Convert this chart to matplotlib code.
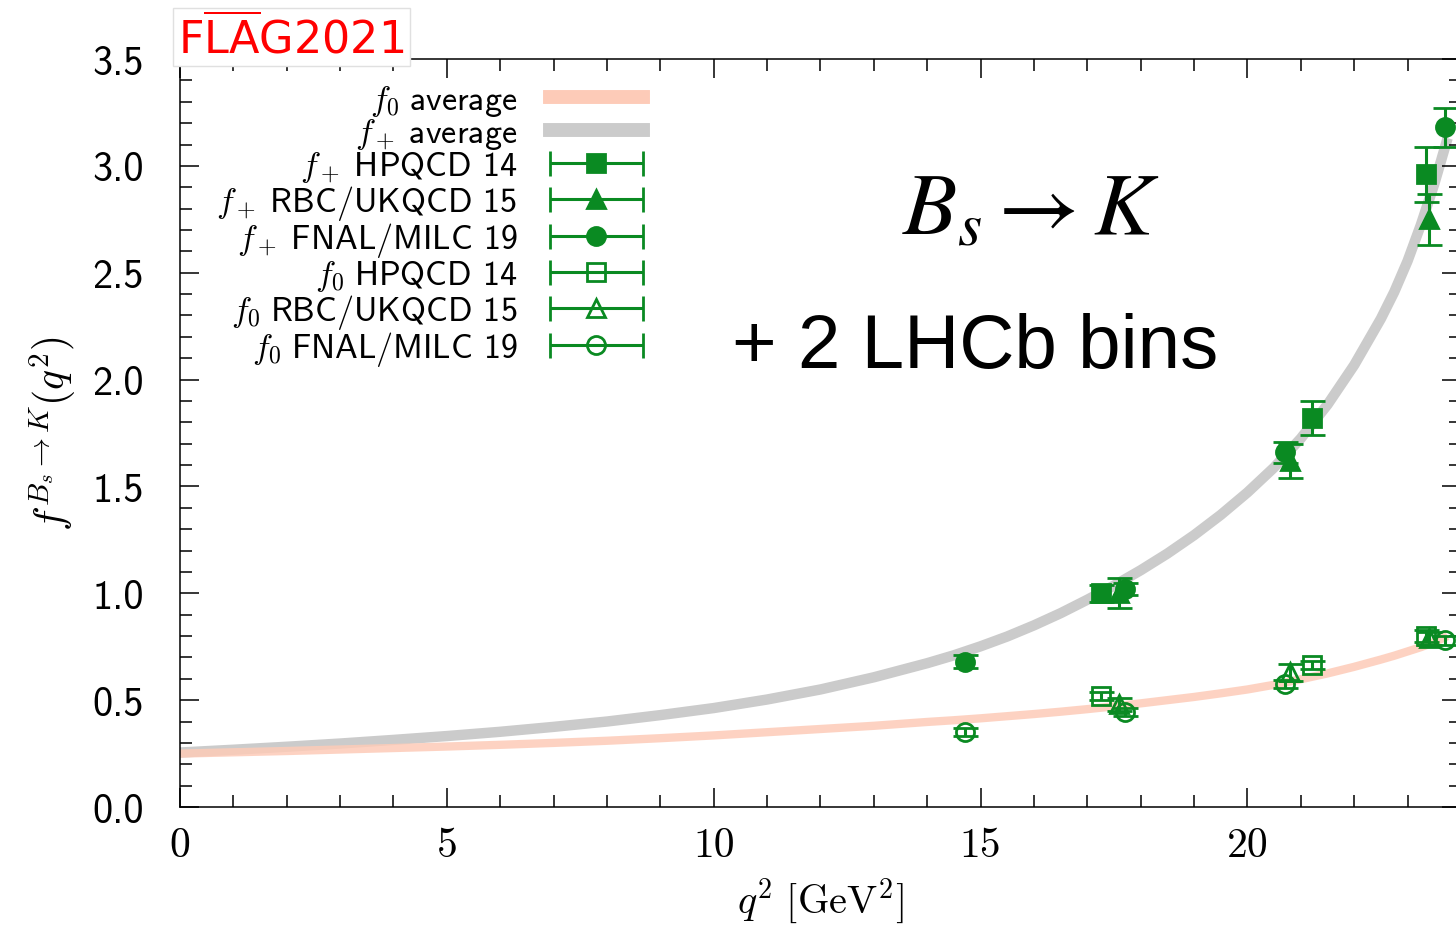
import numpy as np
import matplotlib.pyplot as plt
from matplotlib.lines import Line2D
from matplotlib.legend_handler import HandlerErrorbar
from matplotlib.ticker import MultipleLocator

plt.rcParams['mathtext.fontset'] = 'cm'

# average bands
q2_band = [0, 1, 2, 3, 4, 5, 6, 7, 8, 9, 10, 11, 12, 13, 14, 14.5, 15, 15.5, 16, 16.5,
           17, 17.5, 18, 18.5, 19, 19.5, 20, 20.5, 21, 21.5, 22, 22.5, 22.75, 23,
           23.25, 23.5, 23.75]
fplus_band = [0.255, 0.268, 0.282, 0.297, 0.314, 0.332, 0.352, 0.375, 0.40, 0.43, 0.463,
              0.503, 0.55, 0.607, 0.673, 0.71, 0.752, 0.798, 0.85, 0.907,
              0.97, 1.036, 1.108, 1.186, 1.272, 1.367, 1.472, 1.589, 1.725, 1.883,
              2.068, 2.285, 2.41, 2.555, 2.725, 2.915, 3.13]
fzero_band = [0.25, 0.256, 0.262, 0.269, 0.276, 0.283, 0.291, 0.30, 0.31, 0.322, 0.335,
              0.35, 0.365, 0.38, 0.398, 0.406, 0.415, 0.425, 0.435, 0.446,
              0.458, 0.471, 0.485, 0.50, 0.515, 0.532, 0.55, 0.572, 0.598, 0.625,
              0.656, 0.69, 0.708, 0.728, 0.748, 0.772, 0.80]

# lattice points
q2_hpqcd = [17.25, 21.2, 23.35]
fp_hpqcd = [1.00, 1.82, 2.96]
fp_hpqcd_err = [0.04, 0.08, 0.13]
f0_hpqcd = [0.52, 0.665, 0.80]
f0_hpqcd_err = [0.02, 0.02, 0.03]

q2_rbc = [17.6, 20.8, 23.4]
fp_rbc = [1.00, 1.62, 2.75]
fp_rbc_err = [0.07, 0.08, 0.12]
f0_rbc = [0.48, 0.63, 0.79]
f0_rbc_err = [0.03, 0.04, 0.03]

q2_fnal = [14.7, 17.7, 20.7, 23.7]
fp_fnal = [0.68, 1.02, 1.66, 3.18]
fp_fnal_err = [0.03, 0.03, 0.05, 0.09]
f0_fnal = [0.35, 0.445, 0.575, 0.78]
f0_fnal_err = [0.02, 0.02, 0.02, 0.02]

green = '#0a8a22'
grey = '#cbcbcb'
peach = '#fdcbb8'

fig = plt.figure(figsize=(14.56, 9.28), dpi=100)
ax = fig.add_axes([0.1236, 0.1293, 0.8798, 0.806])

ax.plot(q2_band, fplus_band, color=grey, lw=7.5, solid_capstyle='butt',
        solid_joinstyle='round', zorder=1)
ax.plot(q2_band, fzero_band, color=peach, lw=6, solid_capstyle='butt',
        solid_joinstyle='round', alpha=0.85, zorder=1)

eb = dict(color=green, ecolor=green, mec=green, ms=13, mew=2, capsize=9,
          elinewidth=2.2, capthick=2.2, linestyle='none', zorder=3)

sets = [
    (q2_hpqcd, fp_hpqcd, fp_hpqcd_err, 's', True, r'$f_+\;$HPQCD 14'),
    (q2_rbc, fp_rbc, fp_rbc_err, '^', True, r'$f_+\;$RBC/UKQCD 15'),
    (q2_fnal, fp_fnal, fp_fnal_err, 'o', True, r'$f_+\;$FNAL/MILC 19'),
    (q2_hpqcd, f0_hpqcd, f0_hpqcd_err, 's', False, r'$f_0\;$HPQCD 14'),
    (q2_rbc, f0_rbc, f0_rbc_err, '^', False, r'$f_0\;$RBC/UKQCD 15'),
    (q2_fnal, f0_fnal, f0_fnal_err, 'o', False, r'$f_0\;$FNAL/MILC 19'),
]

handles = [Line2D([], [], color=peach, lw=10), Line2D([], [], color=grey, lw=10)]
labels = [r'$f_0\;$average', r'$f_+\;$average']
hmap = {}
for x, y, e, m, filled, lab in sets:
    mfc = green if filled else 'none'
    ax.errorbar(x, y, yerr=e, marker=m, mfc=mfc, **eb)
    # proxy with horizontal bar for the legend
    proxy = ax.errorbar([np.nan], [np.nan], xerr=[1.0], marker=m, mfc=mfc, **eb)
    handles.append(proxy)
    labels.append(lab)
    hmap[proxy] = HandlerErrorbar(xerr_size=1.365)

ax.legend(handles, labels, loc='upper right', bbox_to_anchor=(0.3614, 0.968),
          markerfirst=False, frameon=False, prop={'family': 'cmss10', 'size': 24.5},
          handlelength=2.73, handletextpad=0.96, labelspacing=-0.04, borderpad=0,
          borderaxespad=0, handler_map=hmap)

ax.set_xlim(0, 24)
ax.set_ylim(0, 3.5)
ax.xaxis.set_major_locator(MultipleLocator(5))
ax.xaxis.set_minor_locator(MultipleLocator(1))
ax.yaxis.set_major_locator(MultipleLocator(0.5))
ax.yaxis.set_minor_locator(MultipleLocator(0.1))
ax.tick_params(which='both', direction='in', top=True, right=True, width=1.1)
ax.tick_params(which='major', length=14)
ax.tick_params(which='minor', length=8.5)
ax.tick_params(axis='x', labelsize=30, pad=14, labelfontfamily='cmr10')
ax.tick_params(axis='y', labelsize=29, pad=26, labelfontfamily='cmss10')
ax.yaxis.set_major_formatter(plt.FuncFormatter(lambda v, _: f'{v:.1f}'))
for s in ax.spines.values():
    s.set_linewidth(1.1)

ax.set_xlabel(r'$q^2\ [\mathrm{GeV}^2]$', fontsize=29, labelpad=8)
ax.set_ylabel(r'$f^{B_s\to K}(q^2)$', fontsize=30, labelpad=10)

ax.text(0.664, 0.80, r'$B_s\rightarrow K$', transform=ax.transAxes, fontsize=64,
        math_fontfamily='stix', ha='center', va='center')
ax.text(0.621, 0.615, '+ 2 LHCb bins', transform=ax.transAxes, fontsize=55,
        family='Liberation Sans', ha='center', va='center')

fig.text(178 / 1456, (928 - 53) / 928, r'F$\overline{\mathsf{LA}}$G2021', color='red',
         fontsize=32, math_fontfamily='dejavusans', va='baseline', ha='left',
         bbox=dict(facecolor='white', edgecolor='#e0e0e0', pad=4))

plt.savefig('out.png', dpi=100)
